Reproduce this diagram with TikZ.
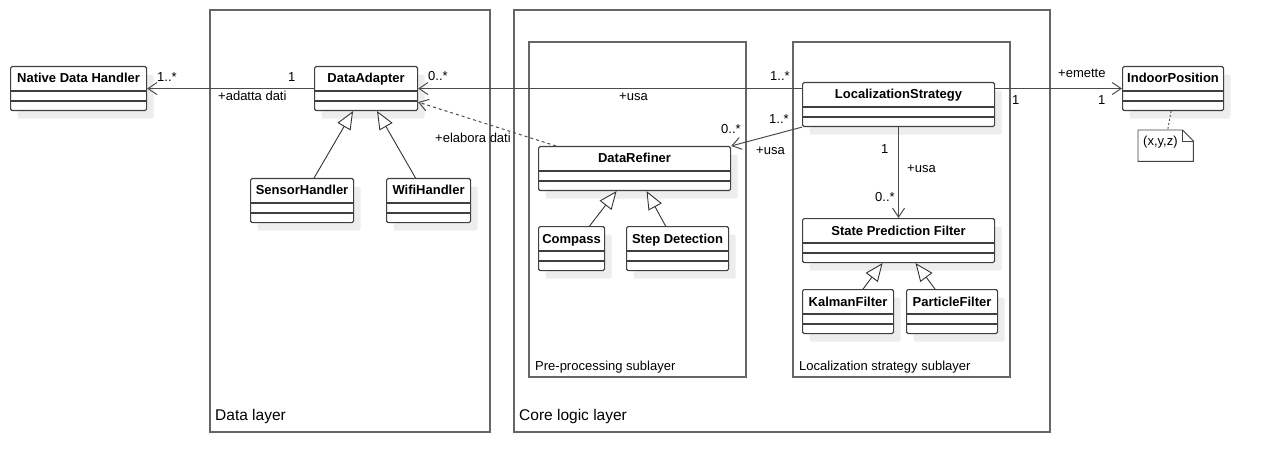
\documentclass[tikz,border=0pt]{standalone}
\usepackage{fontspec}
\setmainfont{Liberation Sans}
\usetikzlibrary{arrows.meta,shadows}

\tikzset{
  classbox/.style={draw=black!75, line width=1.1pt, rectangle, rounded corners=1.5pt,
    anchor=north west, minimum height=44pt, inner sep=0pt, fill=white,
    drop shadow={shadow xshift=7pt, shadow yshift=-8pt, fill=black!7, opacity=1}},
  classname/.style={font=\fontsize{13}{15}\selectfont\bfseries, text height=9.5pt, text depth=2.5pt, inner sep=0pt},
  classline/.style={draw=black!75, line width=1.1pt},
  lbl/.style={font=\fontsize{13}{15}\selectfont, anchor=base west, inner sep=0pt},
  layerlbl/.style={font=\fontsize{15.5}{18}\selectfont, anchor=base west, inner sep=0pt},
  assoc/.style={draw=black!70, line width=1pt, -{Straight Barb[length=9pt,width=12pt]}},
  depend/.style={assoc, dash pattern=on 3pt off 3pt},
  general/.style={draw=black!80, line width=0.9pt, -{Triangle[open,length=18pt,width=15pt,fill=white]}},
  frame/.style={draw=black!60, line width=1.2pt},
}

% class box: name, x, y, width, text
\newcommand{\umlclass}[5]{%
  \node[classbox, minimum width=#4] (#1) at (#2,#3) {};
  \node[classname] at ([yshift=-13.5pt]#1.north) {#5};
  \draw[classline] ([yshift=-25pt]#1.north west) -- ([yshift=-25pt]#1.north east);
  \draw[classline] ([yshift=-35pt]#1.north west) -- ([yshift=-35pt]#1.north east);
}

\begin{document}
\begin{tikzpicture}[x=1pt,y=-1pt]
    \useasboundingbox (0,0) rectangle (1263,473);
    % Layers
    \foreach \xa/\ya/\xb/\yb/\name in {210/10/490/432/Data layer,514/10/1050/432/Core logic layer}
    {
        \draw[frame] (\xa,\ya) rectangle (\xb,\yb);
        \node[layerlbl] at (\xa+5,\yb-12) {\name};
    }
    \foreach \xa/\ya/\xb/\yb/\name in {529/42/746/377/Pre-processing sublayer,793/42/1010/377/Localization strategy sublayer}
    {
        \draw[frame] (\xa,\ya) rectangle (\xb,\yb);
        \node[lbl] at (\xa+6,\yb-7) {\name};
    }

    % Classes
    \umlclass{ndh}{10}{66}{136}{Native Data Handler}
    \umlclass{adapter}{314}{66}{103}{DataAdapter}
    \umlclass{sensor}{250}{178}{103}{SensorHandler}
    \umlclass{wifi}{386}{178}{84}{WifiHandler}
    \umlclass{refiner}{538}{146}{192}{DataRefiner}
    \umlclass{compass}{538}{226}{66}{Compass}
    \umlclass{stepdet}{626}{226}{102}{Step Detection}
    \umlclass{strategy}{802}{82}{192}{LocalizationStrategy}
    \umlclass{filter}{802}{218}{192}{State Prediction Filter}
    \umlclass{kalman}{802}{289}{91}{KalmanFilter}
    \umlclass{particle}{906}{289}{91}{ParticleFilter}
    \umlclass{position}{1122}{66}{101}{IndoorPosition}

    % Note
    \node[anchor=north west, minimum width=55pt, minimum height=31pt, inner sep=0pt] (xyz) at (1138,130) {};
    \draw[classline, line width=0.9pt] (xyz.north west) -- ([xshift=-11pt]xyz.north east) -- ([yshift=-11pt]xyz.north east)
        -- (xyz.south east) -- (xyz.south west) -- cycle;
    \draw[classline, line width=0.9pt] ([xshift=-11pt]xyz.north east) |- ([yshift=-11pt]xyz.north east);
    \node[lbl] at (1143,146) {(x,y,z)};
    \draw[black!70, line width=0.9pt, dash pattern=on 2pt off 2pt] ([xshift=-2pt]position.south) -- ([xshift=2pt]xyz.north);

    % Generalizations
    \draw[general] ([xshift=12pt]sensor.north) -- ([xshift=-13pt]adapter.south);
    \draw[general] ([xshift=-13pt]wifi.north) -- ([xshift=11pt]adapter.south);
    \draw[general] ([xshift=18pt]compass.north) -- ([xshift=-18pt]refiner.south);
    \draw[general] ([xshift=-12pt]stepdet.north) -- ([xshift=12pt]refiner.south);
    \draw[general] ([xshift=15pt]kalman.north) -- ([xshift=-16pt]filter.south);
    \draw[general] ([xshift=-17pt]particle.north) -- ([xshift=17pt]filter.south);

    % Associations
    \draw[assoc] (adapter.west) -- (ndh.east);
    \node[lbl] at (157,82) {1..*};
    \node[lbl] at (288,82) {1};
    \node[lbl] at (218,101) {+adatta dati};

    \draw[assoc] (strategy.west |- adapter.east) -- (adapter.east);
    \node[lbl] at (428,81) {0..*};
    \node[lbl] at (770,81) {1..*};
    \node[lbl] at (619,101) {+usa};

    \draw[depend] ([xshift=18pt]refiner.north west) -- ([yshift=9pt]adapter.south east);
    \node[lbl] at (435,143) {+elabora dati};

    \draw[assoc] (strategy.south west) -- (refiner.north east);
    \node[lbl] at (769,124) {1..*};
    \node[lbl] at (721,134) {0..*};
    \node[lbl] at (756,155) {+usa};

    \draw[assoc] (strategy.south) -- (filter.north);
    \node[lbl] at (881,154) {1};
    \node[lbl] at (907,173) {+usa};
    \node[lbl] at (875,201) {0..*};

    \draw[assoc] (strategy.east |- position.west) -- (position.west);
    \node[lbl] at (1012,105) {1};
    \node[lbl] at (1058,78) {+emette};
    \node[lbl] at (1098,105) {1};
\end{tikzpicture}
\end{document}
